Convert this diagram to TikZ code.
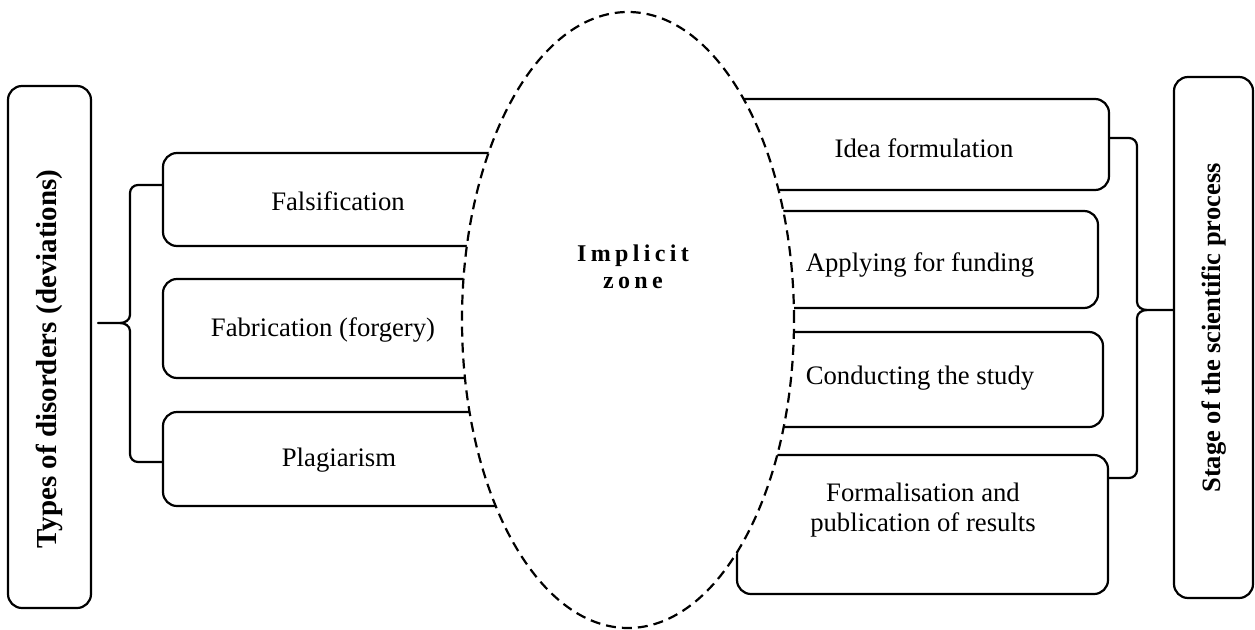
\documentclass[tikz,border=0pt]{standalone}
\usepackage{fontspec}
\setmainfont{Liberation Serif}
\usetikzlibrary{shapes.geometric}
\begin{document}
\begin{tikzpicture}[x=1pt,y=-1pt,
  box/.style={draw,line width=2.2pt,rounded corners=14pt,inner sep=0pt},
  lbl/.style={font=\fontsize{26.7}{30}\selectfont,align=center,inner sep=0pt},
  side/.style={font=\fontsize{#1}{#1}\selectfont\bfseries,rotate=90,inner sep=0pt},
  bracepath/.style={draw,line width=2.2pt,line join=round,line cap=round},
  zone/.style={ellipse,draw,dash pattern=on 10pt off 6pt,line width=2.2pt,fill=white,inner sep=0pt,minimum width=332pt,minimum height=616pt}
]
\useasboundingbox (0,0) rectangle (1255,629);
% side boxes
\node[box,minimum width=83pt,minimum height=522pt] (types) at (49.5,347) {};
\node[box,minimum width=79pt,minimum height=521pt] (stage) at (1213.5,337.5) {};
% left boxes
\node[box,minimum width=397pt,minimum height=93pt] (fals) at (361.5,199.5) {};
\node[box,minimum width=397pt,minimum height=99pt] (fabr) at (361.5,328.5) {};
\node[box,minimum width=397pt,minimum height=94pt] (plag) at (361.5,459) {};
% right boxes
\node[box,minimum width=409pt,minimum height=91pt] (idea) at (904.5,144.5) {};
\node[box,minimum width=398pt,minimum height=97pt] (appl) at (899,259.5) {};
\node[box,minimum width=403pt,minimum height=95pt] (cond) at (901.5,379.5) {};
\node[box,minimum width=371pt,minimum height=139pt] (form) at (922.5,524.5) {};
% implicit zone
\node[zone] (zone) at (628,320) {};
\node[font=\fontsize{24}{27}\selectfont\bfseries\addfontfeatures{LetterSpace=18},align=center,inner sep=0pt] (zonetxt) at (633,267) {Implicit\\zone};
% labels
\node[side=29] (typestxt) at (49.5,359) {Types of disorders (deviations)};
\node[side=26.5] (stagetxt) at (1214,328) {Stage of the scientific process};
\node[lbl] (falst) at (338,201) {Falsification};
\node[lbl] (fabrt) at (323,330) {Fabrication (forgery)};
\node[lbl] (plagt) at (339,460) {Plagiarism};
\node[lbl] (ideat) at (924,148) {Idea formulation};
\node[lbl] (applt) at (920,265) {Applying for funding};
\node[lbl] (condt) at (920,378) {Conducting the study};
\node[lbl] (formt) at (923,510) {Formalisation and\\publication of results};
% left brace
\coordinate (lb1) at (fals.west |- 0,185);
\coordinate (lb2) at (plag.west |- 0,462);
\coordinate (lbt) at (98,323);
\draw[bracepath] (lb1) -- (138,185) to[out=180,in=90] (130,193) -- (130,315)
  to[out=-90,in=0] (120,323) -- (lbt);
\draw[bracepath] (120,323) to[out=0,in=90] (130,331) -- (130,454)
  to[out=-90,in=180] (138,462) -- (lb2);
% right brace
\coordinate (rb1) at (idea.east |- 0,138);
\coordinate (rb2) at (form.east |- 0,478);
\coordinate (rbt) at (stage.west |- 0,310);
\draw[bracepath] (rb1) -- (1129,138) to[out=0,in=90] (1137,146) -- (1137,302)
  to[out=-90,in=180] (1147,310) -- (rbt);
\draw[bracepath] (1147,310) to[out=180,in=90] (1137,318) -- (1137,470)
  to[out=-90,in=0] (1129,478) -- (rb2);
\end{tikzpicture}
\end{document}
